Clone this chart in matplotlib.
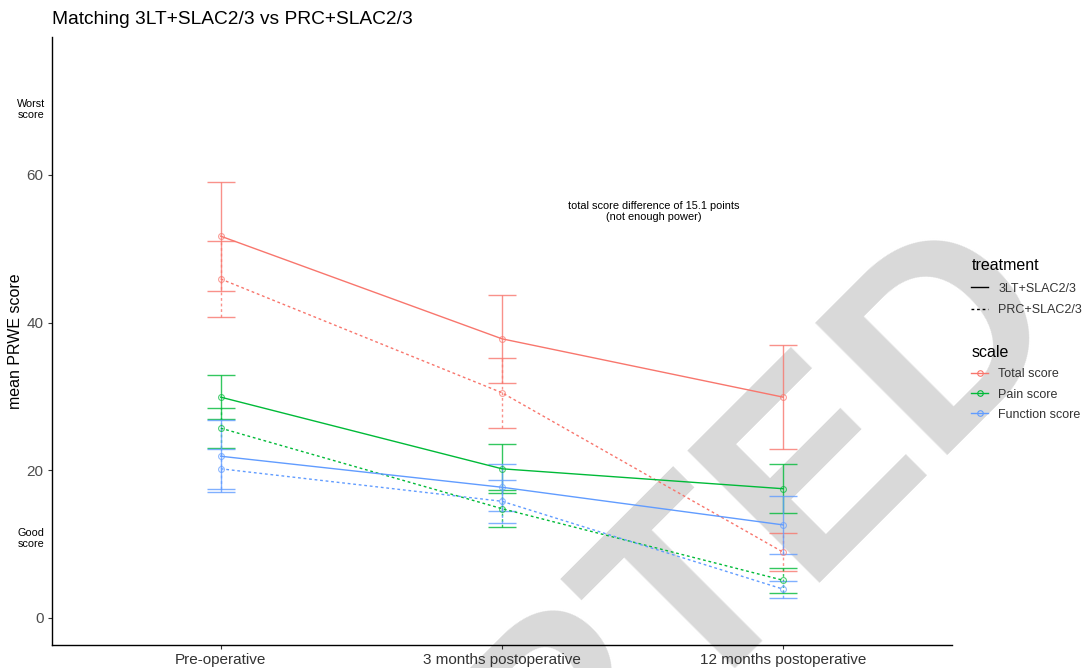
import matplotlib
matplotlib.use("Agg")
import matplotlib.pyplot as plt
from matplotlib.lines import Line2D
import numpy as np

plt.rcParams['font.family'] = ['Liberation Sans', 'DejaVu Sans']

# ---- data ----
timepoints = ["Pre-operative", "3 months postoperative", "12 months postoperative"]
treatments = ["3LT+SLAC2/3", "PRC+SLAC2/3"]
scales = ["Total score", "Pain score", "Function score"]

total_3lt = [51.7, 37.8, 29.9]
total_3lt_err = [7.4, 6.0, 7.0]
total_prc = [45.9, 30.5, 8.9]
total_prc_err = [5.1, 4.75, 2.6]

pain_3lt = [29.9, 20.2, 17.5]
pain_3lt_err = [3.0, 3.3, 3.3]
pain_prc = [25.7, 14.8, 5.1]
pain_prc_err = [2.7, 2.5, 1.7]

func_3lt = [21.9, 17.7, 12.6]
func_3lt_err = [4.9, 3.15, 3.9]
func_prc = [20.2, 15.8, 3.9]
func_prc_err = [2.7, 2.9, 1.15]

colors = {"Total score": "#F8766D", "Pain score": "#00BA38", "Function score": "#619CFF"}
styles = {"3LT+SLAC2/3": "-", "PRC+SLAC2/3": (0, (2, 2))}

series = [
    ("Total score", "3LT+SLAC2/3", total_3lt, total_3lt_err),
    ("Total score", "PRC+SLAC2/3", total_prc, total_prc_err),
    ("Pain score", "3LT+SLAC2/3", pain_3lt, pain_3lt_err),
    ("Pain score", "PRC+SLAC2/3", pain_prc, pain_prc_err),
    ("Function score", "3LT+SLAC2/3", func_3lt, func_3lt_err),
    ("Function score", "PRC+SLAC2/3", func_prc, func_prc_err),
]

fig = plt.figure(figsize=(10.88, 6.68), dpi=100)
fig.patch.set_facecolor("white")
ax = fig.add_axes([52/1088, 23/668, 900/1088, 608/668])
ax.patch.set_alpha(0)

# watermark
fig.text(545/1088, (668-851)/668, "ACCEPTED", rotation=45, rotation_mode="anchor",
         ha="center", va="baseline",
         fontsize=195, fontweight="bold", color="#d9d9d9", zorder=-5,
         family="Liberation Sans")

x = np.arange(1, len(timepoints) + 1)
for scale, trt, vals, errs in series:
    c = colors[scale]
    ls = styles[trt]
    eb = ax.errorbar(x, vals, yerr=errs, color=c, linestyle="none", capsize=10,
                     elinewidth=1.0, capthick=1.0, alpha=0.8, zorder=2)
    for art in eb.lines[2]:
        art.set_linestyle(ls)
    ax.plot(x, vals, color=c, linestyle=ls, linewidth=1.0, zorder=3)
    ax.plot(x, vals, color=c, linestyle="none", marker="o", markersize=4.2,
            markerfacecolor="none", markeredgewidth=0.8, alpha=0.7, zorder=4)

ax.set_xlim(0.4, 3.6)
ax.set_ylim(-3.66, 78.67)
ax.set_xticks(x)
ax.set_xticklabels(timepoints, fontsize=11, color="#333333")
ax.set_yticks([0, 20, 40, 60])
ax.set_yticklabels(["0", "20", "40", "60"], fontsize=11, color="#4d4d4d")
ax.tick_params(axis="both", length=3, width=0.8, color="#333333", pad=3)
for s in ["top", "right"]:
    ax.spines[s].set_visible(False)
for s in ["left", "bottom"]:
    ax.spines[s].set_linewidth(1.0)
    ax.spines[s].set_color("black")
ax.set_ylabel("mean PRWE score", fontsize=11.5, labelpad=3)

ax.text(0.325, 68.8, "Worst\nscore", fontsize=7.8, ha="center", va="center",
        clip_on=False, linespacing=1.15)
ax.text(0.325, 10.8, "Good\nscore", fontsize=7.8, ha="center", va="center",
        clip_on=False, linespacing=1.15)
ax.text(2.538, 55.0, "total score difference of 15.1 points\n(not enough power)",
        fontsize=7.9, ha="center", va="center", linespacing=1.15)

fig.text(52/1088, 1 - 20/668, "Matching 3LT+SLAC2/3 vs PRC+SLAC2/3",
         fontsize=13.8, ha="left", va="center")

# legends
trt_handles = [Line2D([], [], color="black", linestyle=styles[t], linewidth=1.0) for t in treatments]
leg1 = fig.legend(trt_handles, treatments, title="treatment", loc="upper left",
                  bbox_to_anchor=(960/1088, 1 - 247/668), frameon=False, fontsize=9.0,
                  title_fontsize=11.5, handlelength=1.35, handletextpad=0.8,
                  labelspacing=0.75, alignment="left")
for t in leg1.get_texts():
    t.set_color("#333333")

sc_handles = [Line2D([], [], color=colors[s], linestyle="-", linewidth=1.0, marker="o",
                     markersize=4, markerfacecolor="none", markeredgewidth=0.8) for s in scales]
leg2 = fig.legend(sc_handles, scales, title="scale", loc="upper left",
                  bbox_to_anchor=(960/1088, 1 - 334/668), frameon=False, fontsize=9.0,
                  title_fontsize=11.5, handlelength=1.35, handletextpad=0.8,
                  labelspacing=0.65, alignment="left")
for t in leg2.get_texts():
    t.set_color("#333333")

fig.savefig("out.png", dpi=100)
